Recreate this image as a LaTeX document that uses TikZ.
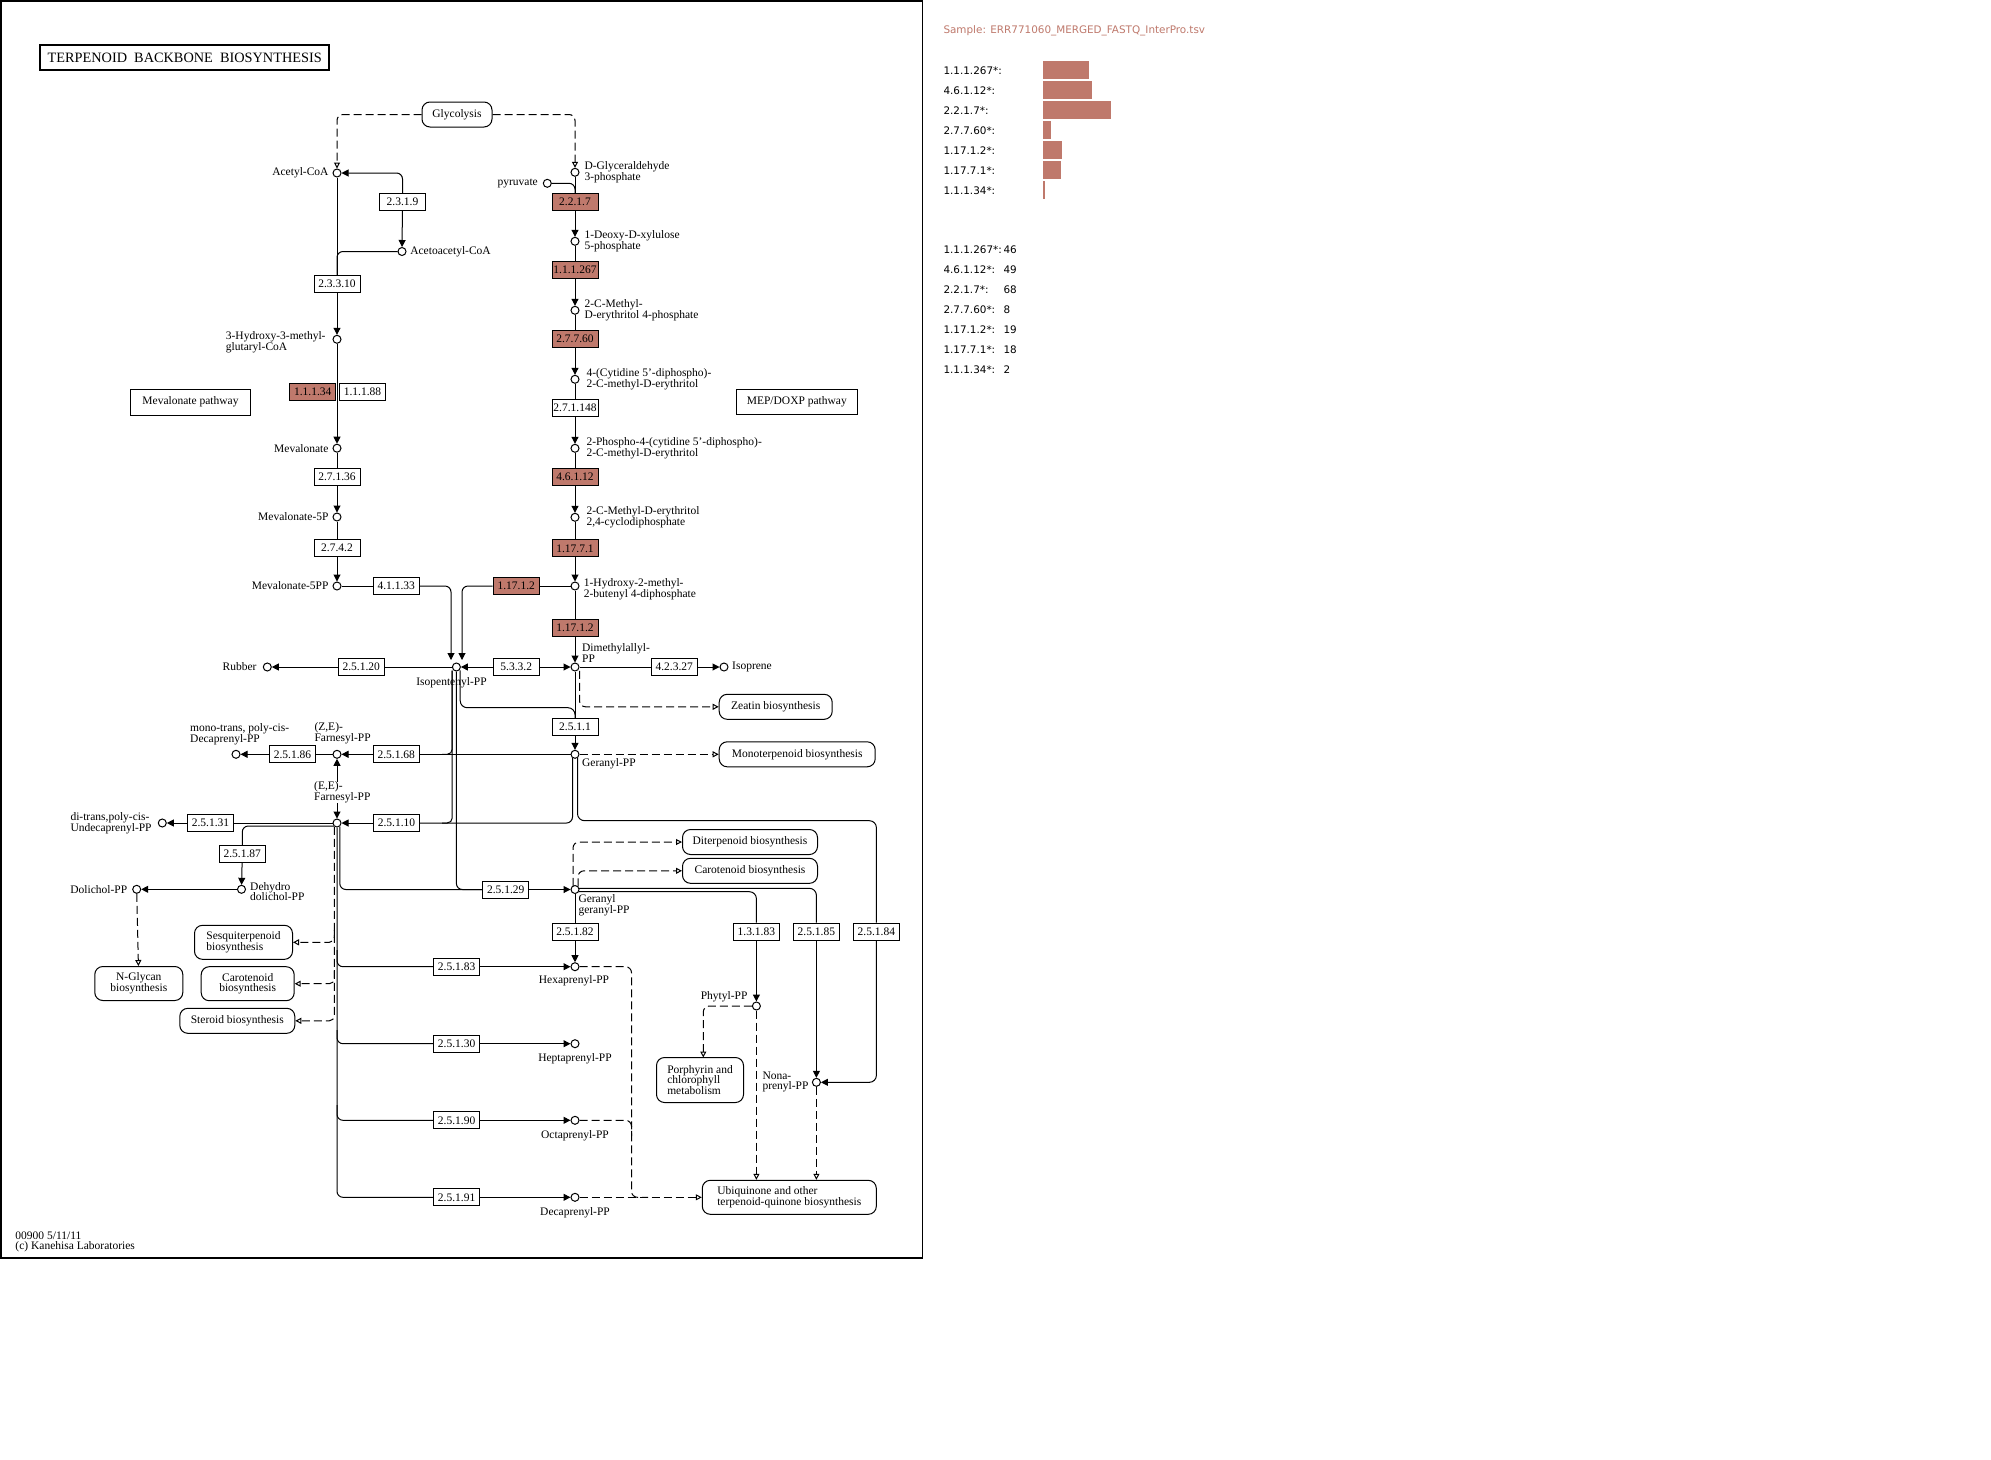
\documentclass[tikz,border=0pt]{standalone}
\usepackage{fontspec}
\setmainfont{Liberation Serif}
\newfontfamily\kgpanel{DejaVu Sans}
\usetikzlibrary{arrows.meta}
\definecolor{hl}{RGB}{191,121,108}
\newcommand\kgL{\fontsize{11.5}{10.7}\selectfont}
\newcommand\kgP{\kgpanel\fontsize{10.4}{12}\selectfont}
\begin{document}
\begin{tikzpicture}[x=1pt,y=-1pt,line width=1pt,
 cpd/.style={circle,draw,fill=white,inner sep=0pt,minimum size=8pt},
 ecbox/.style={draw,fill=white,inner sep=0pt,minimum width=46pt,minimum height=17pt,font=\kgL},
 echl/.style={ecbox,fill=hl},
 mapbox/.style={draw,rounded corners=8pt,fill=white,inner sep=0pt,font=\kgL},
 pwbox/.style={draw,fill=white,inner sep=0pt,font=\kgL},
 lbl/.style={inner sep=0pt,font=\kgL,align=left},
 arr/.style={-{Triangle[length=7pt,width=7pt]}},
 dsh/.style={dash pattern=on 8pt off 4pt},
 darr/.style={dsh,-{Triangle[open,length=6pt,width=6pt]}},
 pnl/.style={inner sep=0pt,font=\kgP,anchor=west}
]
\useasboundingbox (0,0) rectangle (1991,1459);
\fill[white] (0,0) rectangle (1991,1459);
\draw[line width=1.5pt] (0.75,0.75) rectangle (922.5,1258);

% title
\node[draw,line width=2.5pt,minimum width=289pt,minimum height=25pt,inner sep=0pt,font=\fontsize{14.3}{14}\selectfont] (title) at (184.7,57.6) {TERPENOID\ \ BACKBONE\ \ BIOSYNTHESIS};

% pathway boxes
\node[mapbox,minimum width=70pt,minimum height=25pt] (glyc) at (457,114.5) {Glycolysis};
\node[pwbox,minimum width=120pt,minimum height=26pt] (mevpw) at (190.5,402) {Mevalonate pathway};
\node[pwbox,minimum width=121pt,minimum height=25pt] (meppw) at (796.8,401.8) {MEP/DOXP pathway};
\node[mapbox,minimum width=113pt,minimum height=25pt] (zeatin) at (775.7,706.8) {Zeatin biosynthesis};
\node[mapbox,minimum width=156pt,minimum height=25pt] (monoterp) at (797.2,754.3) {Monoterpenoid biosynthesis};
\node[mapbox,minimum width=135pt,minimum height=25pt] (diterp) at (750,842) {Diterpenoid biosynthesis};
\node[mapbox,minimum width=135pt,minimum height=25pt] (carotR) at (750,870.8) {Carotenoid biosynthesis};
\node[mapbox,align=left,minimum width=87pt,minimum height=45pt] (porph) at (700,1080) {Porphyrin and\\chlorophyll\\metabolism};
\node[mapbox,align=left,minimum width=174pt,minimum height=34pt] (ubi) at (789.3,1197.3) {Ubiquinone and other\\terpenoid-quinone biosynthesis};
\node[mapbox,align=left,minimum width=98pt,minimum height=34pt] (sesq) at (243.5,942.3) {Sesquiterpenoid\\biosynthesis};
\node[mapbox,align=center,minimum width=93pt,minimum height=34pt] (carotL) at (247.7,983.7) {Carotenoid\\biosynthesis};
\node[mapbox,align=center,minimum width=88pt,minimum height=34pt] (nglycan) at (138.8,983.5) {N-Glycan\\biosynthesis};
\node[mapbox,minimum width=115pt,minimum height=25pt] (steroid) at (237.3,1020.8) {Steroid biosynthesis};

% compounds
\node[cpd] (acoa) at (337,173) {};
\node[cpd] (gap) at (575,172.3) {};
\node[cpd] (pyr) at (547.3,183.3) {};
\node[cpd] (aacoa) at (402,251.5) {};
\node[cpd] (dxp) at (575,241.3) {};
\node[cpd] (mep) at (575,310.3) {};
\node[cpd] (cdpme) at (575,379.3) {};
\node[cpd] (cdpmep) at (575,448.3) {};
\node[cpd] (mecpp) at (575,517.3) {};
\node[cpd] (hmbpp) at (575,586) {};
\node[cpd] (dmapp) at (575,667) {};
\node[cpd] (isoprene) at (724,667) {};
\node[cpd] (hmg) at (337,339.3) {};
\node[cpd] (mev) at (337,448.2) {};
\node[cpd] (mevfp) at (337,517) {};
\node[cpd] (mevfpp) at (337,586) {};
\node[cpd] (ipp) at (456.4,667) {};
\node[cpd] (rubber) at (267.3,667) {};
\node[cpd] (gpp) at (575,754.3) {};
\node[cpd] (zefpp) at (337,754.3) {};
\node[cpd] (monotrans) at (236,754.3) {};
\node[cpd] (eefpp) at (337,823) {};
\node[cpd] (ditrans) at (162.3,823) {};
\node[cpd] (dehydro) at (241.5,889.3) {};
\node[cpd] (dolichol) at (136.7,889.3) {};
\node[cpd] (ggpp) at (575,889.5) {};
\node[cpd] (hexapp) at (575,966.7) {};
\node[cpd] (heptapp) at (575,1043.7) {};
\node[cpd] (octapp) at (575,1120.3) {};
\node[cpd] (decapp) at (575,1197.3) {};
\node[cpd] (phytyl) at (756.4,1006) {};
\node[cpd] (nonapp) at (816.4,1082.3) {};

% enzymes
\node[ecbox] (ec2319) at (402.5,202) {2.3.1.9};
\node[echl] (ec2217) at (575,201.8) {2.2.1.7};
\node[ecbox] (ec23310) at (337,283.8) {2.3.3.10};
\node[echl] (ec111267) at (575,270.2) {1.1.1.267};
\node[echl] (ec27760) at (575,338.8) {2.7.7.60};
\node[echl] (ec11134) at (312.7,392) {1.1.1.34};
\node[ecbox] (ec11188) at (362.5,392) {1.1.1.88};
\node[ecbox] (ec271148) at (575,407.8) {2.7.1.148};
\node[echl] (ec46112) at (575,477) {4.6.1.12};
\node[ecbox] (ec27136) at (337,476.8) {2.7.1.36};
\node[ecbox] (ec2742) at (337,547.8) {2.7.4.2};
\node[echl] (ec11771) at (575,548.3) {1.17.7.1};
\node[ecbox] (ec41133) at (396.3,586) {4.1.1.33};
\node[echl] (ec11712a) at (516.2,586) {1.17.1.2};
\node[echl] (ec11712b) at (575,627.7) {1.17.1.2};
\node[ecbox] (ec5332) at (516.2,667) {5.3.3.2};
\node[ecbox] (ec25120) at (361.3,667) {2.5.1.20};
\node[ecbox] (ec42327) at (674.3,667) {4.2.3.27};
\node[ecbox] (ec2511) at (575,727) {2.5.1.1};
\node[ecbox] (ec25168) at (396.3,754.3) {2.5.1.68};
\node[ecbox] (ec25186) at (292.5,754.3) {2.5.1.86};
\node[ecbox] (ec25110) at (396.5,823) {2.5.1.10};
\node[ecbox] (ec25131) at (210.5,823) {2.5.1.31};
\node[ecbox] (ec25187) at (242.3,854) {2.5.1.87};
\node[ecbox] (ec25129) at (505.8,889.5) {2.5.1.29};
\node[ecbox] (ec25182) at (575,931.7) {2.5.1.82};
\node[ecbox] (ec13183) at (756.4,931.7) {1.3.1.83};
\node[ecbox] (ec25185) at (816.4,931.7) {2.5.1.85};
\node[ecbox] (ec25184) at (876.4,931.7) {2.5.1.84};
\node[ecbox] (ec25183) at (456.6,966.7) {2.5.1.83};
\node[ecbox] (ec25130) at (456.6,1043.7) {2.5.1.30};
\node[ecbox] (ec25190) at (456.6,1120.3) {2.5.1.90};
\node[ecbox] (ec25191) at (456.6,1197.3) {2.5.1.91};

% helper coordinates
\coordinate (ippA) at (451,660);
\coordinate (ippB) at (462,660);
\coordinate (ippL) at (452.2,670.6);
\coordinate (ippR) at (460.2,670.3);
\coordinate (dmD) at (579.5,670.8);
\coordinate (gppL) at (572.5,758);
\coordinate (gppR) at (577.5,758);
\coordinate (eeA) at (333.8,826);
\coordinate (eeD) at (334.3,826.8);
\coordinate (eeS2) at (339.8,826.6);
\coordinate (dv1) at (334.3,930);
\coordinate (dv2) at (334.3,970);
\coordinate (b83) at (337,950);
\coordinate (b30) at (337,1030);
\coordinate (b90) at (337,1105);
\coordinate (ggA) at (573,885.8);
\coordinate (ggB) at (578,886.3);
\coordinate (ggC) at (578.9,888.3);
\coordinate (ggD) at (578.9,891.7);
\coordinate (porphTop) at (703.3,1057.5);

% connectors: top
\draw[darr,rounded corners=6pt] (glyc.west) -| (acoa);
\draw[darr,rounded corners=6pt] (glyc.east) -| (gap);
\draw[arr,rounded corners=6pt] (ec2319) |- (acoa);
\draw[arr] (ec2319) -- (aacoa);
\draw[rounded corners=6pt] (aacoa) -| (ec23310.north);
\draw (acoa) -- (ec23310);
\draw[arr] (ec23310) -- (hmg);
\draw[arr] (hmg) -- (mev);
\draw (mev) -- (ec27136);
\draw[arr] (ec27136) -- (mevfp);
\draw (mevfp) -- (ec2742);
\draw[arr] (ec2742) -- (mevfpp);
\draw (mevfpp) -- (ec41133);
\draw[arr,rounded corners=6pt] (ec41133.east) -| (ippA);
\draw (hmbpp) -- (ec11712a);
\draw[arr,rounded corners=6pt] (ec11712a.west) -| (ippB);

% MEP column
\draw[rounded corners=6pt] (pyr) -| (ec2217.north);
\draw (gap) -- (ec2217);
\draw[arr] (ec2217) -- (dxp);
\draw (dxp) -- (ec111267);
\draw[arr] (ec111267) -- (mep);
\draw (mep) -- (ec27760);
\draw[arr] (ec27760) -- (cdpme);
\draw (cdpme) -- (ec271148);
\draw[arr] (ec271148) -- (cdpmep);
\draw (cdpmep) -- (ec46112);
\draw[arr] (ec46112) -- (mecpp);
\draw (mecpp) -- (ec11771);
\draw[arr] (ec11771) -- (hmbpp);
\draw (hmbpp) -- (ec11712b);
\draw[arr] (ec11712b) -- (dmapp);

% IPP / DMAPP row
\draw[arr] (ec5332) -- (ipp);
\draw[arr] (ec5332) -- (dmapp);
\draw (ipp) -- (ec25120);
\draw[arr] (ec25120) -- (rubber);
\draw (dmapp) -- (ec42327);
\draw[arr] (ec42327) -- (isoprene);
\draw[darr,rounded corners=6pt] (dmD) |- (zeatin.west);
\draw (dmapp) -- (ec2511);
\draw[arr] (ec2511) -- (gpp);
\draw[rounded corners=7pt] (ippR) -- (460.2,707.7) -- (575,707.7) -- (ec2511.north);
\draw[rounded corners=5pt] (ippL) -- (452.2,754.3) -- (442,754.3);
\draw[rounded corners=5pt] (ippL) -- (452.2,823) -- (442,823);
\draw[rounded corners=6pt] (ipp) -- (456.4,889.5) -- (ec25129.west);

% GPP
\draw[darr] (gpp) -- (monoterp.west);
\draw (gpp) -- (ec25168);
\draw[arr] (ec25168) -- (zefpp);
\draw (zefpp) -- (ec25186);
\draw[arr] (ec25186) -- (monotrans);
\draw[rounded corners=6pt] (gppL) -- (572.5,823) -- (ec25110.east);
\draw[arr] (ec25110) -- (eefpp);
\draw[rounded corners=7pt] (gppR) -- (577.5,820.7) -| (ec25184.north);
\draw[arr,rounded corners=7pt] (ec25184.south) |- (nonapp);
\draw[{Triangle[length=7pt,width=7pt]}-{Triangle[length=7pt,width=7pt]}] (zefpp) -- (eefpp);

% EE-FPP
\draw (eefpp) -- (ec25131);
\draw[arr] (ec25131) -- (ditrans);
\draw[rounded corners=6pt] (eeA) -| (ec25187.north);
\draw[arr] (ec25187) -- (dehydro);
\draw[arr] (dehydro) -- (dolichol);
\draw[darr] (dolichol) -- (nglycan);
\draw[darr,rounded corners=5pt] (eeD) -- (334.3,1020.8) -- (steroid.east);
\draw[darr,rounded corners=5pt] (dv1) -- (334.3,942.3) -- (sesq.east);
\draw[darr,rounded corners=5pt] (dv2) -- (334.3,983.7) -- (carotL.east);
\draw[rounded corners=6pt] (eefpp) -- (337,1197.3) -- (ec25191.west);
\draw[rounded corners=6pt] (b83) -- (337,966.7) -- (ec25183.west);
\draw[rounded corners=6pt] (b30) -- (337,1043.7) -- (ec25130.west);
\draw[rounded corners=6pt] (b90) -- (337,1120.3) -- (ec25190.west);
\draw[rounded corners=6pt] (eeS2) -- (339.8,889.5) -- (ec25129.west);

% GGPP
\draw[arr] (ec25129) -- (ggpp);
\draw[darr,rounded corners=6pt] (ggA) |- (diterp.west);
\draw[darr,rounded corners=6pt] (ggB) |- (carotR.west);
\draw[rounded corners=7pt] (ggC) -| (ec25185.north);
\draw[rounded corners=7pt] (ggD) -| (ec13183.north);
\draw (ggpp) -- (ec25182);
\draw[arr] (ec25182) -- (hexapp);
\draw[arr] (ec25183) -- (hexapp);
\draw[arr] (ec25130) -- (heptapp);
\draw[arr] (ec25190) -- (octapp);
\draw[arr] (ec25191) -- (decapp);
\draw[arr] (ec13183) -- (phytyl);
\draw[arr] (ec25185) -- (nonapp);
\draw[darr,rounded corners=6pt] (phytyl) -| (porphTop);
\draw[darr] (phytyl) -- (phytyl |- ubi.north);
\draw[darr] (nonapp) -- (nonapp |- ubi.north);
\draw[dsh,rounded corners=6pt] (hexapp) -- (631.5,966.7) -- (631.5,1197.3) -- (648,1197.3);
\draw[dsh,rounded corners=6pt] (octapp) -- (631.5,1120.3) -- (631.5,1136);
\draw[darr] (decapp) -- (ubi.west);

% compound labels
\node[lbl,anchor=east] (tacoa) at (329,173) {Acetyl-CoA};
\node[lbl,anchor=west] (tgap) at (584,172.3) {D-Glyceraldehyde\\3-phosphate};
\node[lbl,anchor=east] (tpyr) at (538.3,183.3) {pyruvate};
\node[lbl,anchor=west] (taacoa) at (409.8,251.5) {Acetoacetyl-CoA};
\node[lbl,anchor=west] (tdxp) at (584,241.3) {1-Deoxy-D-xylulose\\5-phosphate};
\node[lbl,anchor=west] (tmep) at (584,310.3) {2-C-Methyl-\\D-erythritol 4-phosphate};
\node[lbl,anchor=west] (tcdpme) at (586,379.3) {4-(Cytidine 5'-diphospho)-\\2-C-methyl-D-erythritol};
\node[lbl,anchor=west] (tcdpmep) at (586,448.3) {2-Phospho-4-(cytidine 5'-diphospho)-\\2-C-methyl-D-erythritol};
\node[lbl,anchor=west] (tmecpp) at (586,517.3) {2-C-Methyl-D-erythritol\\2,4-cyclodiphosphate};
\node[lbl,anchor=west] (thmbpp) at (583.4,589.5) {1-Hydroxy-2-methyl-\\2-butenyl 4-diphosphate};
\node[lbl,anchor=south west] (tdmapp) at (581.6,662.5) {Dimethylallyl-\\PP};
\node[lbl,anchor=west] (tisoprene) at (731.7,666.5) {Isoprene};
\node[lbl,anchor=west] (thmg) at (225.4,342.5) {3-Hydroxy-3-methyl-\\glutaryl-CoA};
\node[lbl,anchor=east] (tmev) at (329,448.2) {Mevalonate};
\node[lbl,anchor=east] (tmevfp) at (329,517) {Mevalonate-5P};
\node[lbl,anchor=east] (tmevfpp) at (329,586) {Mevalonate-5PP};
\node[lbl,anchor=north] (tipp) at (451.5,677) {Isopentenyl-PP};
\node[lbl,anchor=east] (trubber) at (257,667) {Rubber};
\node[lbl,anchor=north west] (tgpp) at (581.6,758) {Geranyl-PP};
\node[lbl,anchor=south west,fill=white] (tzefpp) at (314,744.5) {(Z,E)-\\Farnesyl-PP};
\node[lbl,anchor=south west] (tmonotrans) at (189.7,745) {mono-trans, poly-cis-\\Decaprenyl-PP};
\node[lbl,anchor=south west,fill=white] (teefpp) at (313.7,803.5) {(E,E)-\\Farnesyl-PP};
\node[lbl,anchor=west] (tditrans) at (70,823.5) {di-trans,poly-cis-\\Undecaprenyl-PP};
\node[lbl,anchor=west] (tdehydro) at (249.7,891.5) {Dehydro\\dolichol-PP};
\node[lbl,anchor=east] (tdolichol) at (127.7,889.3) {Dolichol-PP};
\node[lbl,anchor=north west] (tggpp) at (578,894) {Geranyl\\geranyl-PP};
\node[lbl] (thexapp) at (574,981) {Hexaprenyl-PP};
\node[lbl] (theptapp) at (575,1058.3) {Heptaprenyl-PP};
\node[lbl] (toctapp) at (575,1135.7) {Octaprenyl-PP};
\node[lbl] (tdecapp) at (575,1212.7) {Decaprenyl-PP};
\node[lbl,anchor=east] (tphytyl) at (748,997) {Phytyl-PP};
\node[lbl,anchor=west] (tnonapp) at (762,1082) {Nona-\\prenyl-PP};

% footer
\node[lbl,anchor=north west] (footer) at (15,1231) {00900 5/11/11\\(c) Kanehisa Laboratories};

% right panel
\node[pnl,text=hl] (sample) at (943,31) {Sample: ERR771060\_MERGED\_FASTQ\_InterPro.tsv};
\foreach \lab/\n [count=\i] in {1.1.1.267/46,4.6.1.12/49,2.2.1.7/68,2.7.7.60/8,1.17.1.2/19,1.17.7.1/18,1.1.1.34/2}{
  \node[pnl] (bl\i) at (943,{51+20*\i}) {\lab*:};
  \fill[hl] (1043,{41+20*\i}) rectangle ++(\n,18);
  \node[pnl] (cl\i) at (943,{230+20*\i}) {\lab*:};
  \node[pnl] (cn\i) at (1003,{230+20*\i}) {\n};
}
\end{tikzpicture}
\end{document}
